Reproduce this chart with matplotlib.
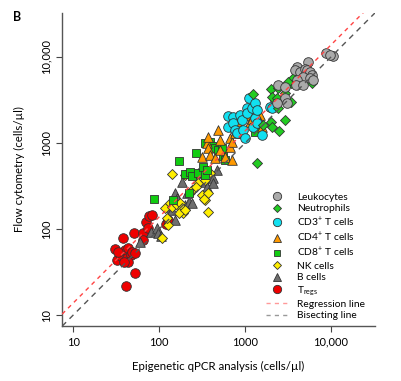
import matplotlib
matplotlib.use("Agg")
import matplotlib.pyplot as plt
from matplotlib.lines import Line2D
import numpy as np

plt.rcParams['font.family'] = ['Lato', 'DejaVu Sans']
plt.rcParams['mathtext.fontset'] = 'custom'
plt.rcParams['mathtext.rm'] = 'Lato'
plt.rcParams['mathtext.it'] = 'Lato'

# values (cells/ul): qPCR (x) vs flow cytometry (y)
treg_x = [31, 32, 38, 36, 40, 42, 44, 47, 48, 53, 51, 41, 53, 65, 71, 77, 65, 74, 44, 39, 83, 121, 127, 33]
treg_y = [58, 44, 79, 49, 57, 46, 60, 50, 54, 53, 90, 22, 31, 90, 121, 142, 74, 103, 41, 41, 146, 114, 127, 54]

bcell_x = [60, 81, 95, 97, 106, 127, 142, 154, 154, 162, 185, 201, 212, 223, 242, 284, 342, 361, 424, 424, 472]
bcell_y = [71, 92, 103, 90, 83, 180, 166, 262, 127, 229, 352, 190, 262, 206, 201, 448, 352, 308, 392, 342, 485]

nk_x = [108, 127, 124, 117, 134, 142, 162, 176, 185, 190, 171, 201, 142, 201, 284, 342, 392, 229, 316, 342, 371, 333, 371, 242, 269]
nk_y = [79, 111, 134, 176, 201, 180, 190, 201, 176, 154, 154, 166, 436, 424, 342, 371, 448, 262, 249, 217, 262, 223, 158, 284, 308]

cd8_x = [88, 146, 171, 201, 229, 242, 223, 269, 284, 325, 342, 361, 342, 392, 413, 448, 485, 540, 555, 585, 1310]
cd8_y = [223, 217, 617, 436, 460, 413, 262, 765, 448, 526, 424, 485, 1000, 1030, 923, 875, 829, 875, 706, 634, 1340]

cd4_x = [316, 361, 371, 371, 392, 448, 485, 512, 512, 585, 669, 669, 706, 706, 765, 765, 807, 947, 1080, 1140, 1210, 1490, 1490, 1580]
cd4_y = [687, 1000, 1170, 875, 725, 669, 1420, 1080, 829, 687, 1140, 899, 634, 1030, 1540, 1310, 1800, 1310, 2120, 1760, 1900, 2120, 1760, 1540]

cd3_x = [634, 634, 725, 725, 765, 807, 875, 923, 947, 1000, 1060, 1060, 1110, 1210, 1240, 1310, 1310, 1380, 1380, 1580, 1950, 2230, 2060]
cd3_y = [2060, 1540, 2010, 1710, 1420, 1310, 2120, 1850, 1420, 1140, 2550, 2230, 3330, 2550, 1540, 2920, 1950, 2420, 1710, 1240, 2620, 3160, 2550]

neut_x = [1240, 2010, 2060, 2360, 2420, 2920, 2920, 3430, 3430, 3610, 3160, 6010, 2010, 2060, 2920, 2490, 1380, 1620, 2420]
neut_y = [3710, 4240, 3430, 3330, 4360, 4600, 3810, 4980, 3000, 5690, 5120, 4980, 1760, 1540, 1850, 1380, 585, 1620, 2550]

leuk_x = [8750, 10500, 9730, 5400, 4020, 3810, 4360, 4980, 5260, 5690, 6010, 4720, 5690, 4020, 6170, 3920, 4720, 2420, 2920, 2920, 3080, 2360]
leuk_y = [11100, 10300, 10500, 8750, 7650, 7060, 6690, 7250, 7060, 6690, 6170, 5850, 5690, 5400, 5400, 4720, 4720, 4720, 4480, 3330, 2920, 2920]

reg_slope = 1.0
reg_intercept = 0.14   # log10 offset of the regression line
axis_lim = [7.45, 32400]
tick_vals = [10, 100, 1000, 10000]
tick_labels = ['10', '100', '1000', '10,000']

fig = plt.figure(figsize=(4.01, 3.81), dpi=100)
ax = fig.add_axes([0.155, 0.144, 0.78, 0.822])

edge = '#333333'
# draw order: Tregs first, leukocytes last
groups = [
    (treg_x, treg_y, 'o', '#ee0000', 48),
    (bcell_x, bcell_y, '^', '#6e6e6e', 48),
    (nk_x, nk_y, 'D', '#ffee00', 26),
    (cd8_x, cd8_y, 's', '#11cc11', 28),
    (cd4_x, cd4_y, '^', '#ff9900', 48),
    (cd3_x, cd3_y, 'o', '#11e0f0', 48),
    (neut_x, neut_y, 'D', '#22cc22', 26),
    (leuk_x, leuk_y, 'o', '#aaaaaa', 48),
]
for gx, gy, m, c, s in groups:
    ax.scatter(gx, gy, marker=m, s=s, c=c, edgecolors=edge, linewidths=0.6, zorder=2)

xl = np.array(axis_lim)
ax.plot(xl, 10 ** (reg_slope * np.log10(xl) + reg_intercept), ls=(0, (3, 3)),
        color='#ff4444', lw=1.0, zorder=3)
ax.plot(xl, xl, ls=(0, (4, 3.5)), color='#555555', lw=1.0, zorder=3)

ax.set_xscale('log')
ax.set_yscale('log')
ax.set_xlim(axis_lim)
ax.set_ylim(axis_lim)
ax.set_xticks(tick_vals)
ax.set_xticklabels(tick_labels)
ax.set_yticks(tick_vals)
ax.set_yticklabels(tick_labels, rotation=90, va='center')
ax.minorticks_off()
ax.tick_params(labelsize=8, length=4, width=0.8, color='#444444')
for side in ['top', 'right']:
    ax.spines[side].set_visible(False)
for side in ['left', 'bottom']:
    ax.spines[side].set_color('#555555')
    ax.spines[side].set_linewidth(1.0)

ax.set_xlabel('Epigenetic qPCR analysis (cells/\u00b5l)', fontsize=8.3, labelpad=10)
ax.set_ylabel('Flow cytometry (cells/\u00b5l)', fontsize=8.3, labelpad=11)

fig.text(0.032, 0.955, 'B', fontsize=9, fontweight='bold', va='center')

handles = [
    Line2D([], [], ls='', marker='o', mfc='#aaaaaa', mec=edge, mew=0.6, ms=6),
    Line2D([], [], ls='', marker='D', mfc='#22cc22', mec=edge, mew=0.6, ms=4.5),
    Line2D([], [], ls='', marker='o', mfc='#11e0f0', mec=edge, mew=0.6, ms=6),
    Line2D([], [], ls='', marker='^', mfc='#ff9900', mec=edge, mew=0.6, ms=6),
    Line2D([], [], ls='', marker='s', mfc='#11cc11', mec=edge, mew=0.6, ms=4.5),
    Line2D([], [], ls='', marker='D', mfc='#ffee00', mec=edge, mew=0.6, ms=4.5),
    Line2D([], [], ls='', marker='^', mfc='#6e6e6e', mec=edge, mew=0.6, ms=6),
    Line2D([], [], ls='', marker='o', mfc='#ee0000', mec=edge, mew=0.6, ms=6),
    Line2D([], [], ls=(0, (3, 3)), color='#ff9999', lw=1.0),
    Line2D([], [], ls=(0, (3, 3)), color='#999999', lw=1.0),
]
labels = ['Leukocytes', 'Neutrophils', 'CD3$^{+}$ T cells', 'CD4$^{+}$ T cells',
          'CD8$^{+}$ T cells', 'NK cells', 'B cells', 'T$_{\\mathrm{regs}}$',
          'Regression line', 'Bisecting line']
ax.legend(handles, labels, frameon=False, fontsize=7.4, loc='lower left',
          bbox_to_anchor=(0.64, 0.005), handlelength=2.0, handletextpad=1.0,
          labelspacing=0.22, borderaxespad=0)

fig.savefig('out.png', dpi=100)
